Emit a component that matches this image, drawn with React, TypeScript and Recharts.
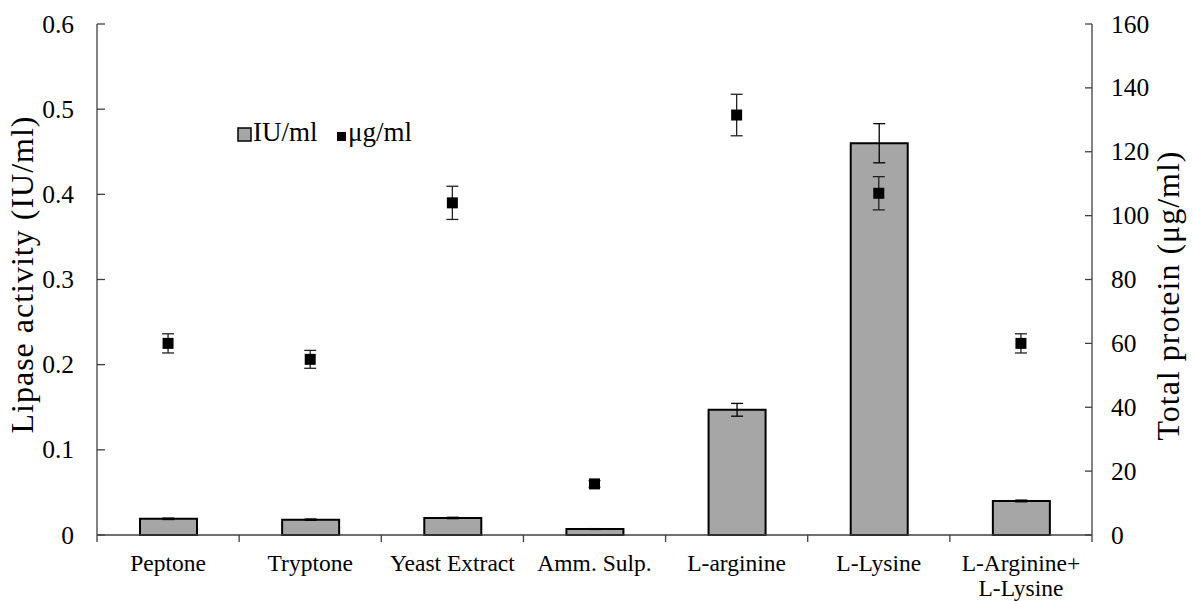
import React from 'react';
import { ComposedChart, Bar, Scatter, XAxis, YAxis, ErrorBar } from 'recharts';

// Nitrogen sources tested
const categories = [
  'Peptone',
  'Tryptone',
  'Yeast Extract',
  'Amm. Sulp.',
  'L-arginine',
  'L-Lysine',
  'L-Arginine+ L-Lysine',
];

// Lipase activity (IU/ml) with standard deviation
const lipaseActivity = [0.019, 0.018, 0.02, 0.007, 0.147, 0.46, 0.04];
const lipaseError = [0.0008, 0.0008, 0.0008, 0.0005, 0.0075, 0.023, 0.001];

// Total protein (µg/ml) with standard deviation
const totalProtein = [60, 55, 104, 16, 131.5, 107, 60];
const proteinError = [3, 2.8, 5.2, 1, 6.5, 5.2, 3];

const leftTicks = [0, 0.1, 0.2, 0.3, 0.4, 0.5, 0.6];
const rightTicks = [0, 20, 40, 60, 80, 100, 120, 140, 160];

const seriesNames = ['IU/ml', 'μg/ml'];

const data = categories.map((name, i) => ({
  name,
  iu: lipaseActivity[i],
  iuErr: lipaseError[i],
  ug: totalProtein[i],
  ugErr: proteinError[i],
}));

const FONT = '"Liberation Serif", "Times New Roman", Times, serif';
const AXIS = '#404040';
const W = 1194;
const H = 601;
const LEFT_W = 97;
const RIGHT_W = 102;
const TOP = 24;
const X_H = 66;
const BAND = (W - LEFT_W - RIGHT_W) / categories.length;

const fmtLeft = (v: number) => (v === 0 ? '0' : v.toFixed(1));

const LeftTick = (props: any) => {
  const { x, y, payload } = props;
  return (
    <g>
      <line x1={x} x2={x + 8} y1={y} y2={y} stroke={AXIS} strokeWidth={1.3} />
      <text x={x - 23} y={y + 8.5} textAnchor="end" fontFamily={FONT} fontSize={25.5} fill="#000">
        {fmtLeft(payload.value)}
      </text>
    </g>
  );
};

const RightTick = (props: any) => {
  const { x, y, payload } = props;
  return (
    <g>
      <line x1={x - 7} x2={x} y1={y} y2={y} stroke={AXIS} strokeWidth={1.3} />
      <text x={x + 19} y={y + 8.5} textAnchor="start" fontFamily={FONT} fontSize={25.5} fill="#000">
        {payload.value}
      </text>
    </g>
  );
};

const CategoryTick = (props: any) => {
  const { x, y, payload, index } = props;
  const label: string = payload.value;
  const lines = label.includes('+ ') ? [label.split('+ ')[0] + '+', label.split('+ ')[1]] : [label];
  const isLast = index === categories.length - 1;
  return (
    <g>
      <line x1={x - BAND / 2} x2={x - BAND / 2} y1={y} y2={y + 7} stroke={AXIS} strokeWidth={1.3} />
      {isLast && (
        <line x1={x + BAND / 2} x2={x + BAND / 2} y1={y} y2={y + 7} stroke={AXIS} strokeWidth={1.3} />
      )}
      {lines.map((ln, i) => (
        <text
          key={i}
          x={x}
          y={y + 36 + i * 25}
          textAnchor="middle"
          fontFamily={FONT}
          fontSize={23.5}
          fill="#000"
        >
          {ln}
        </text>
      ))}
    </g>
  );
};

const SquareMarker = (props: any) => {
  const { cx, cy } = props;
  return <rect x={cx - 5.5} y={cy - 5.5} width={11} height={11} fill="#000" />;
};

// Legend drawn as an overlay inside the plot, in the upper-left area
const LegendOverlay = () => (
  <svg
    width={W}
    height={H}
    style={{ position: 'absolute', left: 0, top: 0, pointerEvents: 'none' }}
  >
    <rect x={238} y={128} width={13} height={13} fill="#a6a6a6" stroke="#000" strokeWidth={1.5} />
    <text x={253} y={141} fontFamily={FONT} fontSize={27} fill="#000">
      {seriesNames[0]}
    </text>
    <rect x={337} y={132} width={9} height={9} fill="#000" />
    <text x={348} y={141} fontFamily={FONT} fontSize={27} fill="#000">
      {seriesNames[1]}
    </text>
  </svg>
);

const titleStyle = { letterSpacing: '1px' };

const leftTitle = (props: any) => {
  const vb = props.viewBox;
  const cx = 22;
  const cy = vb.y + vb.height / 2 - 5;
  return (
    <text
      x={cx}
      y={cy}
      transform={`rotate(-90 ${cx} ${cy})`}
      textAnchor="middle"
      dominantBaseline="central"
      fontFamily={FONT}
      fontSize={32}
      fill="#000"
      style={titleStyle}
    >
      Lipase activity (IU/ml)
    </text>
  );
};

const rightTitle = (props: any) => {
  const vb = props.viewBox;
  const cx = 1168;
  const cy = vb.y + vb.height / 2 + 16;
  return (
    <text
      x={cx}
      y={cy}
      transform={`rotate(-90 ${cx} ${cy})`}
      textAnchor="middle"
      dominantBaseline="central"
      fontFamily={FONT}
      fontSize={32}
      fill="#000"
      style={titleStyle}
    >
      Total protein (μg/ml)
    </text>
  );
};

export default function App() {
  return (
    <div style={{ position: 'absolute', left: 0, top: 0, width: W, height: H, background: '#fff' }}>
      <ComposedChart width={W} height={H} data={data} margin={{ top: TOP, right: 0, bottom: 0, left: 0 }}>
        <XAxis
          dataKey="name"
          height={X_H}
          interval={0}
          tickLine={false}
          tickSize={0}
          tickMargin={0}
          axisLine={{ stroke: AXIS, strokeWidth: 1.3 }}
          tick={<CategoryTick />}
        />
        <YAxis
          yAxisId="left"
          orientation="left"
          width={LEFT_W}
          domain={[0, 0.6]}
          ticks={leftTicks}
          interval={0}
          tickLine={false}
          tickSize={0}
          tickMargin={0}
          axisLine={{ stroke: AXIS, strokeWidth: 1.3 }}
          tick={<LeftTick />}
          label={leftTitle}
        />
        <YAxis
          yAxisId="right"
          orientation="right"
          width={RIGHT_W}
          domain={[0, 160]}
          ticks={rightTicks}
          interval={0}
          tickLine={false}
          tickSize={0}
          tickMargin={0}
          axisLine={{ stroke: AXIS, strokeWidth: 1.3 }}
          tick={<RightTick />}
          label={rightTitle}
        />
        <Bar
          yAxisId="left"
          dataKey="iu"
          name={seriesNames[0]}
          barSize={57}
          fill="#a6a6a6"
          stroke="#000"
          strokeWidth={2}
          isAnimationActive={false}
        >
          <ErrorBar dataKey="iuErr" width={6} stroke="#000" strokeWidth={1.3} direction="y" />
        </Bar>
        <Scatter
          yAxisId="right"
          dataKey="ug"
          name={seriesNames[1]}
          fill="#000"
          shape={<SquareMarker />}
          isAnimationActive={false}
        >
          <ErrorBar dataKey="ugErr" width={6} stroke="#222" strokeWidth={1.3} direction="y" />
        </Scatter>
      </ComposedChart>
      <LegendOverlay />
    </div>
  );
}
